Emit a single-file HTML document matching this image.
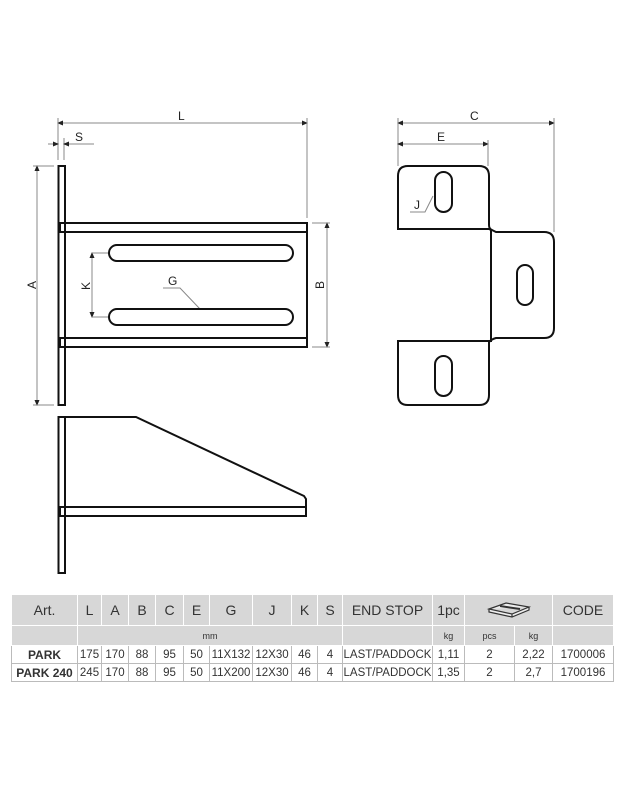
<!DOCTYPE html>
<html><head><meta charset="utf-8"><style>
html,body{margin:0;padding:0;background:#fff;width:622px;height:800px;overflow:hidden;font-family:"Liberation Sans",sans-serif}
svg{position:absolute;left:0;top:0}
table{position:absolute;left:11px;top:594px;border-collapse:collapse;table-layout:fixed;width:602px;font-family:"Liberation Sans",sans-serif;color:#333}
td{padding:0;text-align:center;border:1px solid #fff;font-size:11px;overflow:hidden;white-space:nowrap}
tr.h td{background:#d7d7d7;height:30px;font-size:14px;border-color:#fff}
tr.m td{background:#d7d7d7;height:19px;font-size:9px;border-color:#fff}
tr.d td{background:#fff;height:17px;border:1px solid #bbb;font-size:11.5px}
tr.d td:first-child{font-weight:bold;font-size:12px}
</style></head><body>
<svg width="622" height="800" viewBox="0 0 622 800">
<defs><marker id="a" markerWidth="6" markerHeight="6" refX="5" refY="3" orient="auto-start-reverse"><path d="M0,0.5 L6,3 L0,5.5z" fill="#222"/></marker></defs>
<g stroke="#888" stroke-width="1" fill="none">
<line x1="58" y1="123" x2="307" y2="123" marker-start="url(#a)" marker-end="url(#a)"/>
<line x1="58" y1="118" x2="58" y2="160"/><line x1="64" y1="138" x2="64" y2="160"/>
<line x1="307" y1="118" x2="307" y2="218"/>
<line x1="48" y1="144" x2="58" y2="144" marker-end="url(#a)"/>
<line x1="64" y1="144" x2="94" y2="144" marker-start="url(#a)"/>
<line x1="37" y1="166" x2="37" y2="405" marker-start="url(#a)" marker-end="url(#a)"/>
<line x1="33" y1="166" x2="54" y2="166"/><line x1="33" y1="405" x2="54" y2="405"/>
<line x1="92" y1="253" x2="92" y2="317" marker-start="url(#a)" marker-end="url(#a)"/>
<line x1="92" y1="253" x2="109" y2="253"/><line x1="92" y1="317" x2="109" y2="317"/>
<line x1="327" y1="223" x2="327" y2="347" marker-start="url(#a)" marker-end="url(#a)"/>
<line x1="312" y1="223" x2="330" y2="223"/><line x1="312" y1="347" x2="330" y2="347"/>
<polyline points="163,288 180,288 200,309"/>
<line x1="398" y1="123" x2="554" y2="123" marker-start="url(#a)" marker-end="url(#a)"/>
<line x1="398" y1="118" x2="398" y2="166"/><line x1="554" y1="118" x2="554" y2="232"/>
<line x1="398" y1="144" x2="488" y2="144" marker-start="url(#a)" marker-end="url(#a)"/>
<line x1="488" y1="140" x2="488" y2="166"/>
<polyline points="410,212 425,212 433,196"/>
</g>
<g stroke="#111" stroke-width="2" fill="none">
<rect x="58.5" y="166" width="6.5" height="239"/>
<rect x="60" y="223" width="247" height="9"/>
<rect x="60" y="338" width="247" height="9"/>
<line x1="65" y1="232" x2="65" y2="338"/>
<line x1="307" y1="232" x2="307" y2="338"/>
<rect x="109" y="245" width="184" height="16" rx="8"/>
<rect x="109" y="309" width="184" height="16" rx="8"/>
<rect x="58.5" y="417" width="6.5" height="156"/>
<polyline points="65,417 136,417 304,496 306,499 306,507"/>
<rect x="60" y="507" width="246" height="9"/>
<path d="M398,229 L398,176 Q398,166 408,166 L479,166 Q489,166 489,176 L489,225 Q489,229 492,230 Q494,231 496,232 L544,232 Q554,232 554,242 L554,328 Q554,338 544,338 L496,338 Q492,339 489,342 L489,395 Q489,405 479,405 L408,405 Q398,405 398,395 L398,341 L491,341 L491,230 L489,229 Z"/>
<line x1="398" y1="229" x2="490" y2="229"/>
<rect x="435" y="172" width="17" height="40" rx="8.5"/>
<rect x="517" y="265" width="16" height="40" rx="8"/>
<rect x="435" y="356" width="17" height="40" rx="8.5"/>
</g>
<g font-family="Liberation Sans,sans-serif" font-size="12" fill="#222">
<text x="178" y="120">L</text>
<text x="75" y="141">S</text>
<text x="168" y="285">G</text>
<text x="470" y="120">C</text>
<text x="437" y="141">E</text>
<text x="414" y="209">J</text>
<text transform="translate(36,289) rotate(-90)">A</text>
<text transform="translate(90,290) rotate(-90)">K</text>
<text transform="translate(324,289) rotate(-90)">B</text>
</g>
</svg>
<table>
<colgroup><col style="width:66px"><col style="width:24px"><col style="width:27px"><col style="width:27px"><col style="width:28px"><col style="width:26px"><col style="width:43px"><col style="width:39px"><col style="width:26px"><col style="width:25px"><col style="width:90px"><col style="width:32px"><col style="width:50px"><col style="width:38px"><col style="width:61px"></colgroup>
<tr class="h"><td>Art.</td><td>L</td><td>A</td><td>B</td><td>C</td><td>E</td><td>G</td><td>J</td><td>K</td><td>S</td><td>END STOP</td><td>1pc</td><td colspan="2"><svg style="position:static" width="46" height="18" viewBox="0 0 46 18"><path d="M3,9 L20,3 L43,7 L26,14 Z M3,9 L3,12 L26,17 L43,10 L43,7 M26,14 L26,17" fill="#eee" stroke="#333" stroke-width="1.2"/><path d="M14,6 L34,9" stroke="#333" stroke-width="2"/></svg></td><td>CODE</td></tr>
<tr class="m"><td></td><td colspan="9">mm</td><td></td><td>kg</td><td>pcs</td><td>kg</td><td></td></tr>
<tr class="d"><td>PARK</td><td>175</td><td>170</td><td>88</td><td>95</td><td>50</td><td>11X132</td><td>12X30</td><td>46</td><td>4</td><td>LAST/PADDOCK</td><td>1,11</td><td>2</td><td>2,22</td><td>1700006</td></tr>
<tr class="d"><td>PARK 240</td><td>245</td><td>170</td><td>88</td><td>95</td><td>50</td><td>11X200</td><td>12X30</td><td>46</td><td>4</td><td>LAST/PADDOCK</td><td>1,35</td><td>2</td><td>2,7</td><td>1700196</td></tr>
</table>
</body></html>
